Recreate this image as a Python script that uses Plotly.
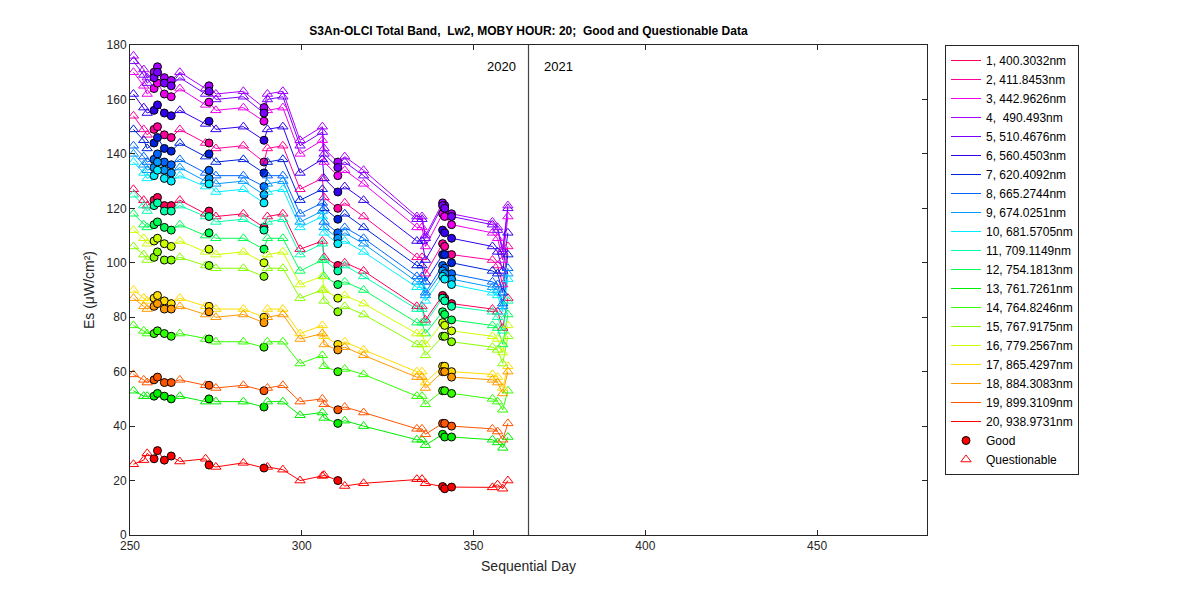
import plotly.graph_objects as go

days = [251, 254, 255, 257, 258, 260, 262, 264.5, 272, 273, 275, 283, 289, 290, 294.5, 299.5,
        306, 306.5, 310.5, 312.5, 318, 333.5, 335, 336, 341, 341.6, 343.6, 355.5, 357, 358.5, 360]
good = [0, 0, 0, 1, 1, 1, 1, 0, 0, 1, 0, 0, 1, 0, 0, 0,
        0, 0, 1, 0, 0, 0, 0, 0, 1, 1, 1, 0, 0, 0, 0]

band_names = ["1, 400.3032nm", "2, 411.8453nm", "3, 442.9626nm", "4,  490.493nm", "5, 510.4676nm",
              "6, 560.4503nm", "7, 620.4092nm", "8, 665.2744nm", "9, 674.0251nm", "10, 681.5705nm",
              "11, 709.1149nm", "12, 754.1813nm", "13, 761.7261nm", "14, 764.8246nm", "15, 767.9175nm",
              "16, 779.2567nm", "17, 865.4297nm", "18, 884.3083nm", "19, 899.3109nm", "20, 938.9731nm"]
band_colors = ["#FF0055", "#FF0099", "#EE00EE", "#AA00FF", "#7700FF", "#3300EE", "#0022DD", "#0066FF",
               "#0099FF", "#00EEFF", "#00FFAA", "#00FF55", "#00EE00", "#33FF00", "#88FF00", "#CCFF00",
               "#FFDD00", "#FF9900", "#FF5500", "#FF0000"]

es_b1 = [127,123,121,123,124,121,121,123,118,119,117,118,113,117,118,105,108,102,99,100,97,84,84,79,88,87,85,83,82,76,87]
es_b2 = [154,149,147,149,150,147,146,149,144,144,142,143,137,142,143,127,131,124,120,122,117,102,102,96,107,106,103,101,99,92,106]
es_b3 = [170,165,162,164,166,162,161,164,158,159,156,157,152,156,157,140,145,137,132,134,129,113,113,106,118,117,114,111,109,101,117]
es_b4 = [176,171,168,170,172,168,167,170,164,165,162,163,157,162,163,145,150,142,137,139,134,117,117,110,122,121,118,115,113,105,121]
es_b5 = [174,169,166,168,170,166,165,168,162,163,160,161,155,160,161,143,148,140,135,137,132,116,116,109,121,120,117,114,112,104,120]
es_b6 = [162,157,155,156,158,155,154,156,151,152,149,150,145,149,150,133,138,131,126,128,123,108,108,101,112,111,109,106,104,97,111]
es_b7 = [149,145,142,144,146,142,141,144,139,140,137,138,133,137,138,123,127,120,116,118,113,99,99,93,103,103,100,97,96,89,103]
es_b8 = [143,139,137,138,140,137,136,138,133,134,132,132,128,132,132,118,122,115,111,113,109,95,95,89,99,98,96,93,92,85,98]
es_b9 = [140,136,134,135,137,134,133,135,130,131,129,130,125,129,130,115,119,113,109,111,107,93,93,88,97,96,94,91,90,84,96]
es_b10 = [137,133,131,132,134,131,130,132,128,129,126,127,122,126,127,113,117,111,107,108,104,91,91,86,95,94,92,89,88,82,94]
es_b11 = [125,121,119,121,122,119,119,121,117,117,115,116,112,115,116,103,107,101,97,99,95,83,83,78,87,86,84,82,80,75,86]
es_b12 = [118,114,113,114,115,113,112,114,110,111,109,109,105,109,109,97,101,95,92,93,90,78,78,74,82,81,79,77,76,70,81]
es_b13 = [53,51,51,51,52,51,50,51,49,50,49,49,47,49,49,44,45,43,41,42,40,35,35,33,37,36,36,35,34,32,36]
es_b14 = [77,75,74,74,75,74,73,74,72,72,71,71,69,71,71,63,66,62,60,61,59,51,51,48,53,53,52,50,49,46,53]
es_b15 = [106,103,101,102,104,101,101,102,99,99,98,98,95,98,98,87,90,86,82,84,81,70,70,66,73,73,71,69,68,63,73]
es_b16 = [112,109,107,108,109,107,106,108,104,105,103,104,100,103,104,92,95,90,87,88,85,74,74,70,78,77,75,73,72,67,77]
es_b17 = [90,87,86,87,88,86,85,87,84,84,83,83,80,83,83,74,77,73,70,71,68,60,60,56,62,62,60,59,58,54,62]
es_b18 = [87,84,83,84,85,83,83,84,81,82,80,81,78,80,81,72,74,70,68,69,66,58,58,54,60,60,58,57,56,52,60]
es_b19 = [59,57,56,57,58,56,56,57,55,55,54,55,53,54,55,49,50,48,46,47,45,39,39,37,41,41,40,39,38,35,41]
es_b20 = [26,27.5,30,28,31,27.5,29,27,28,25.7,25,26.5,24.6,25,24,20,21.7,22,20,18,19,20.5,20.5,19,17.8,17,17.6,17.5,18.5,17,20]

es_all = [es_b1, es_b2, es_b3, es_b4, es_b5, es_b6, es_b7, es_b8, es_b9, es_b10,
          es_b11, es_b12, es_b13, es_b14, es_b15, es_b16, es_b17, es_b18, es_b19, es_b20]

fig = go.Figure()

# lines first (legend entries)
for name, col, es in zip(band_names, band_colors, es_all):
    fig.add_trace(go.Scatter(x=days, y=es, mode="lines", name=name,
                             line=dict(color=col, width=1)))

# markers per band: filled circles = good, open triangles = questionable
for col, es in zip(band_colors, es_all):
    fig.add_trace(go.Scatter(
        x=days, y=es, mode="markers", showlegend=False, hoverinfo="skip",
        marker=dict(size=[8 if g else 9 for g in good], opacity=1,
                    symbol=["circle" if g else "triangle-up-open" for g in good],
                    color=col,
                    line=dict(color=["black" if g else col for g in good], width=1))))

# legend dummies
fig.add_trace(go.Scatter(x=[None], y=[None], mode="markers", name="Good",
                         marker=dict(symbol="circle", size=8, color="red", opacity=1,
                                     line=dict(color="black", width=1))))
fig.add_trace(go.Scatter(x=[None], y=[None], mode="markers", name="Questionable",
                         marker=dict(symbol="triangle-up-open", size=9, color="red")))

fig.add_vline(x=366, line_color="#444444", line_width=1.2)
fig.add_annotation(x=363, y=172, text="2020", showarrow=False, xanchor="right",
                   font=dict(size=13, color="black"))
fig.add_annotation(x=370, y=172, text="2021", showarrow=False, xanchor="left",
                   font=dict(size=13, color="black"))

fig.update_layout(
    width=1200, height=600,
    paper_bgcolor="white", plot_bgcolor="white",
    font=dict(family="Liberation Sans, Arial", size=12, color="#262626"),
    margin=dict(l=122, r=281, t=37, b=73),
    title=dict(text="<b>S3An-OLCI Total Band,  Lw2, MOBY HOUR: 20;  Good and Questionable Data</b>",
               x=(122 + 919) / 2 / 1200, xanchor="center", yref="container", y=0.962, yanchor="middle",
               font=dict(size=12, color="black")),
    legend=dict(x=1.0226, y=1, xanchor="left", yanchor="top",
                bordercolor="#262626", borderwidth=1, bgcolor="white",
                font=dict(size=12, color="black"), tracegroupgap=0),
    xaxis=dict(range=[250, 482], tickvals=[250, 300, 350, 400, 450],
               title=dict(text="Sequential Day", standoff=8),
               showgrid=False, zeroline=False, showline=True, linecolor="#262626",
               mirror="ticks", ticks="inside", ticklen=5, tickcolor="#262626"),
    yaxis=dict(range=[0, 180], dtick=20, title=dict(text="Es (μW/cm²)", standoff=8),
               showgrid=False, zeroline=False, showline=True, linecolor="#262626",
               mirror="ticks", ticks="inside", ticklen=5, tickcolor="#262626"),
)

fig.write_html("out.html")
